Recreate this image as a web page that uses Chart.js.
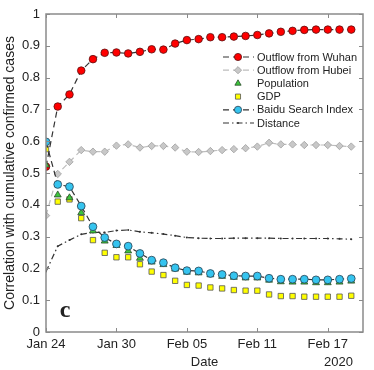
<!DOCTYPE html>
<html>
<head>
<meta charset="utf-8">
<script src="https://cdn.jsdelivr.net/npm/chart.js@4.4.0/dist/chart.umd.min.js"></script>
<style>
  html, body { margin: 0; padding: 0; background: #fff; }
  #wrap { width: 374px; height: 370px; position: relative; }
</style>
</head>
<body>
<div id="wrap"><canvas id="chart"></canvas></div>
<script>
// Data (day index 0 = Jan 24, 2020)
const dates = ['Jan 24','Jan 25','Jan 26','Jan 27','Jan 28','Jan 29','Jan 30','Jan 31',
  'Feb 01','Feb 02','Feb 03','Feb 04','Feb 05','Feb 06','Feb 07','Feb 08','Feb 09','Feb 10',
  'Feb 11','Feb 12','Feb 13','Feb 14','Feb 15','Feb 16','Feb 17','Feb 18','Feb 19'];
const tickDays = [0, 6, 12, 18, 24];
const tickLabels = ['Jan 24', 'Jan 30', 'Feb 05', 'Feb 11', 'Feb 17'];
const yTicks = [0, 0.1, 0.2, 0.3, 0.4, 0.5, 0.6, 0.7, 0.8, 0.9, 1];

const wuhan = [0.52, 0.709, 0.747, 0.822, 0.858, 0.878, 0.879, 0.876, 0.881, 0.889, 0.888, 0.907, 0.918,
  0.921, 0.927, 0.927, 0.929, 0.931, 0.934, 0.939, 0.944, 0.947, 0.950, 0.951, 0.951, 0.951, 0.951];
const hubei = [0.366, 0.497, 0.535, 0.572, 0.567, 0.567, 0.586, 0.590, 0.580, 0.585, 0.585, 0.580, 0.567,
  0.566, 0.569, 0.572, 0.575, 0.578, 0.583, 0.595, 0.590, 0.590, 0.588, 0.588, 0.588, 0.585, 0.583];
const population = [0.525, 0.431, 0.422, 0.375, 0.318, 0.286, 0.272, 0.255, 0.232, 0.220, 0.212, 0.198, 0.188,
  0.186, 0.180, 0.175, 0.172, 0.170, 0.170, 0.163, 0.158, 0.157, 0.157, 0.155, 0.155, 0.157, 0.160];
const gdp = [0.575, 0.410, 0.417, 0.358, 0.289, 0.249, 0.235, 0.235, 0.213, 0.190, 0.179, 0.161, 0.148,
  0.146, 0.140, 0.137, 0.132, 0.130, 0.130, 0.118, 0.113, 0.113, 0.111, 0.111, 0.111, 0.111, 0.114];
const baidu = [0.598, 0.464, 0.457, 0.396, 0.331, 0.297, 0.277, 0.270, 0.247, 0.226, 0.218, 0.202, 0.193,
  0.192, 0.184, 0.181, 0.177, 0.176, 0.176, 0.169, 0.166, 0.166, 0.166, 0.164, 0.164, 0.166, 0.168];
const distance = [0.19, 0.27, 0.289, 0.307, 0.313, 0.313, 0.319, 0.321, 0.315, 0.312, 0.308, 0.303, 0.297,
  0.295, 0.294, 0.294, 0.295, 0.295, 0.295, 0.295, 0.294, 0.294, 0.294, 0.294, 0.294, 0.293, 0.292];

const FONT = '"Liberation Sans", Arial, sans-serif';
const toXY = arr => arr.map((v, i) => ({ x: i, y: v }));

// frame, inward ticks, legend and extra texts
const decor = {
  id: 'decor',
  afterDraw(chart) {
    const { ctx, chartArea: a, scales: { x, y } } = chart;
    ctx.save();
    // box
    ctx.strokeStyle = '#8a8a8a';
    ctx.lineWidth = 1.5;
    ctx.strokeRect(a.left, a.top, a.right - a.left, a.bottom - a.top);
    // inward ticks on all four sides
    ctx.lineWidth = 1;
    ctx.beginPath();
    x.ticks.forEach(t => {
      const px = Math.round(x.getPixelForValue(t.value)) + 0.5;
      ctx.moveTo(px, a.bottom); ctx.lineTo(px, a.bottom - 4);
      ctx.moveTo(px, a.top); ctx.lineTo(px, a.top + 4);
    });
    y.ticks.forEach(t => {
      const py = Math.round(y.getPixelForValue(t.value)) + 0.5;
      ctx.moveTo(a.left, py); ctx.lineTo(a.left + 4, py);
      ctx.moveTo(a.right, py); ctx.lineTo(a.right - 4, py);
    });
    ctx.stroke();

    // year under last tick
    ctx.fillStyle = '#222';
    ctx.font = '13px ' + FONT;
    ctx.textAlign = 'right';
    ctx.textBaseline = 'middle';
    ctx.fillText('2020', a.right - 10, 362);

    // panel letter
    ctx.font = 'bold 24px "Liberation Serif", "Times New Roman", serif';
    ctx.textAlign = 'center';
    ctx.fillText('c', a.left + 19, a.bottom - 21);

    // legend
    const lx = a.right - 140;
    let ly = a.top + 43;
    ctx.font = '11px ' + FONT;
    ctx.textAlign = 'left';
    chart.data.datasets.forEach(ds => {
      if (ds.showLine !== false) {
        ctx.strokeStyle = ds.borderColor;
        ctx.lineWidth = ds.borderWidth;
        ctx.setLineDash(ds.borderDash || []);
        ctx.beginPath();
        ctx.moveTo(lx, ly); ctx.lineTo(lx + 31, ly);
        ctx.stroke();
        ctx.setLineDash([]);
      }
      ctx.fillStyle = ds.pointBackgroundColor;
      ctx.strokeStyle = ds.pointBorderColor;
      ctx.lineWidth = ds.pointBorderWidth;
      Chart.helpers.drawPoint(ctx, { pointStyle: ds.pointStyle, radius: Math.min(ds.pointRadius, 3.6), rotation: 0, borderWidth: ds.pointBorderWidth }, lx + 15, ly);
      ctx.fillStyle = '#222';
      ctx.fillText(ds.label, lx + 34, ly + 0.5);
      ly += 13.2;
    });
    ctx.restore();
  }
};

new Chart(document.getElementById('chart'), {
  type: 'line',
  data: {
    labels: dates,
    datasets: [
      { label: 'Outflow from Wuhan', data: toXY(wuhan), order: 6,
        borderColor: '#333', borderWidth: 1.2, borderDash: [6, 4],
        pointStyle: 'circle', pointRadius: 3.8, pointBackgroundColor: '#ff0000', pointBorderColor: '#5a1010', pointBorderWidth: 0.8 },
      { label: 'Outflow from Hubei', data: toXY(hubei), order: 5,
        borderColor: '#bdbdbd', borderWidth: 1.2, borderDash: [6, 4],
        pointStyle: 'rectRot', pointRadius: 3.7, pointBackgroundColor: '#c8c8c8', pointBorderColor: '#a0a0a0', pointBorderWidth: 0.8 },
      { label: 'Population', data: toXY(population), order: 2, showLine: false,
        borderColor: '#333', borderWidth: 0,
        pointStyle: 'triangle', pointRadius: 4, pointBackgroundColor: '#3cc63c', pointBorderColor: '#2a4a2a', pointBorderWidth: 0.8 },
      { label: 'GDP', data: toXY(gdp), order: 3, showLine: false,
        borderColor: '#333', borderWidth: 0,
        pointStyle: 'rect', pointRadius: 3.8, pointBackgroundColor: '#ffff00', pointBorderColor: '#555', pointBorderWidth: 0.8 },
      { label: 'Baidu Search Index', data: toXY(baidu), order: 1,
        borderColor: '#333', borderWidth: 1.2, borderDash: [6, 4],
        pointStyle: 'circle', pointRadius: 3.9, pointBackgroundColor: '#35c4ef', pointBorderColor: '#2a4050', pointBorderWidth: 0.8 },
      { label: 'Distance', data: toXY(distance), order: 4,
        borderColor: '#333', borderWidth: 1.2, borderDash: [6, 3, 1.5, 3],
        pointStyle: 'circle', pointRadius: 1, pointBackgroundColor: '#333', pointBorderColor: '#333', pointBorderWidth: 0 }
    ]
  },
  options: {
    responsive: true,
    maintainAspectRatio: false,
    animation: false,
    layout: { padding: { left: 0, top: 14, right: 11, bottom: 0 } },
    plugins: { legend: { display: false }, tooltip: { enabled: false } },
    elements: { line: { tension: 0, fill: false } },
    scales: {
      x: {
        type: 'linear', min: 0, max: 27,
        afterBuildTicks: s => { s.ticks = tickDays.map(v => ({ value: v })); },
        afterFit: s => { s.height = 38; },
        grid: { display: false, drawTicks: false },
        border: { display: false },
        ticks: { autoSkip: false, maxRotation: 0, padding: 5, color: '#222', font: { family: FONT, size: 13 },
          callback: (v, i) => tickLabels[i] },
        title: { display: true, text: 'Date', color: '#222', font: { family: FONT, size: 13 }, padding: { top: 0, bottom: 0 } }
      },
      y: {
        min: 0, max: 1,
        afterBuildTicks: s => { s.ticks = yTicks.map(v => ({ value: v })); },
        afterFit: s => { s.width = 46; },
        grid: { display: false, drawTicks: false },
        border: { display: false },
        ticks: { padding: 6, color: '#222', font: { family: FONT, size: 13 }, callback: v => String(v) },
        title: { display: true, text: 'Correlation with cumulative confirmed cases', color: '#222',
          font: { family: FONT, size: 14 }, padding: { top: 2, bottom: 0 } }
      }
    }
  },
  plugins: [decor]
});
</script>
</body>
</html>
